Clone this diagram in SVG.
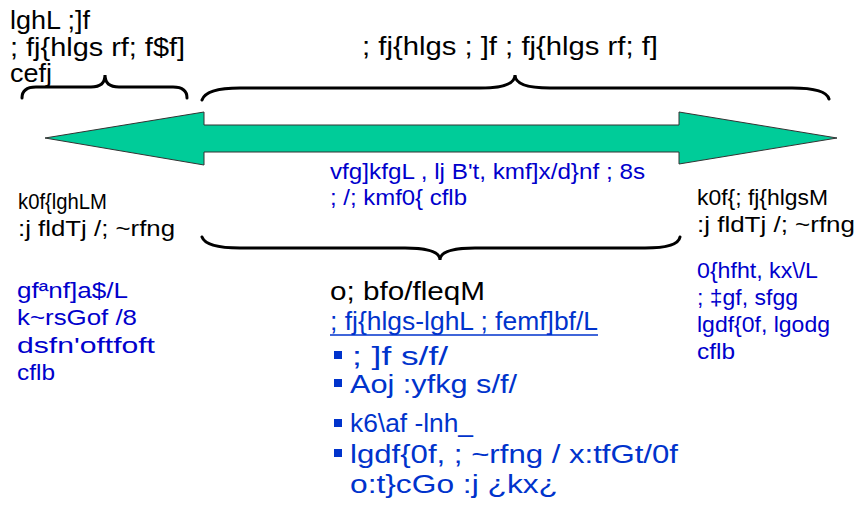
<svg xmlns="http://www.w3.org/2000/svg" width="858" height="507" viewBox="0 0 858 507">
<style>
text{font-family:"Liberation Sans",Arial,sans-serif;}
.k{fill:#000;}
.b{fill:#0000CC;}
.c{fill:#0033CC;}
.s25{font-size:25px;}
.s26{font-size:26px;}
.s22{font-size:22px;}
.brace{fill:none;stroke:#000;stroke-width:3;stroke-linecap:round;}
.bul{fill:#0033CC;}
</style>
<rect width="858" height="507" fill="#fff"/>
<g id="connectors">
<polygon points="45,138 204,112 204,125 679,125 679,112 837,138 679,164 679,152 204,152 204,165" fill="#00CC99" stroke="#333" stroke-width="1"/>
<path class="brace" d="M22,98 Q22,87 36,87 L91,87 Q105,87 105,75 Q105,87 119,87 L173,87 Q187,87 187,98"/>
<path class="brace" d="M202,100 Q206,88 240,88 L480,88 Q515,88 515,75 Q515,88 550,88 L792,88 Q826,88 829,99"/>
<path class="brace" d="M202,237 Q206,248 240,248 L405,248 Q440,248 440,260 Q440,248 475,248 L645,248 Q678,248 680,237"/>
</g>
<g id="top-left">
<text class="k s25" x="10" y="29" textLength="80" lengthAdjust="spacingAndGlyphs">lghL ;]f</text>
<text class="k s25" x="10" y="56" textLength="175" lengthAdjust="spacingAndGlyphs">; fj{hlgs rf; f$f]</text>
<text class="k s25" x="10" y="82" textLength="42" lengthAdjust="spacingAndGlyphs">cefj</text>
</g>
<g id="top-center">
<text class="k s25" x="362" y="55" textLength="296" lengthAdjust="spacingAndGlyphs">; fj{hlgs ; ]f ; fj{hlgs rf; f]</text>
</g>
<g id="under-arrow">
<text class="b s22" x="330" y="179" textLength="315" lengthAdjust="spacingAndGlyphs">vfg]kfgL , lj B't, kmf]x/d}nf  ; 8s</text>
<text class="b s22" x="330" y="205" textLength="137" lengthAdjust="spacingAndGlyphs">; /; kmf0{ cflb</text>
</g>
<g id="left-node">
<text class="k s22" x="18" y="209" textLength="89" lengthAdjust="spacingAndGlyphs">k0f{lghLM</text>
<text class="k s22" x="18" y="236" textLength="157" lengthAdjust="spacingAndGlyphs">:j fldTj /; ~rfng</text>
<text class="b s22" x="17" y="298" textLength="111" lengthAdjust="spacingAndGlyphs">gfªnf]a$/L</text>
<text class="b s22" x="17" y="325" textLength="120" lengthAdjust="spacingAndGlyphs">k~rsGof /8</text>
<text class="b s22" x="17" y="353" textLength="138" lengthAdjust="spacingAndGlyphs">dsfn'oftfoft</text>
<text class="b s22" x="17" y="380" textLength="38" lengthAdjust="spacingAndGlyphs">cflb</text>
</g>
<g id="right-node">
<text class="k s22" x="697" y="205" textLength="131" lengthAdjust="spacingAndGlyphs">k0f{; fj{hlgsM</text>
<text class="k s22" x="697" y="232" textLength="158" lengthAdjust="spacingAndGlyphs">:j fldTj /; ~rfng</text>
<text class="b s22" x="697" y="278" textLength="121" lengthAdjust="spacingAndGlyphs">0{hfht, kx\/L</text>
<text class="b s22" x="697" y="305" textLength="101" lengthAdjust="spacingAndGlyphs">; ‡gf, sfgg</text>
<text class="b s22" x="697" y="332" textLength="133" lengthAdjust="spacingAndGlyphs">lgdf{0f, lgodg</text>
<text class="b s22" x="697" y="359" textLength="38" lengthAdjust="spacingAndGlyphs">cflb</text>
</g>
<g id="center-node">
<text class="k s26" x="330" y="300" textLength="155" lengthAdjust="spacingAndGlyphs">o;  bfo/fleqM</text>
<text class="c s26" x="330" y="330" textLength="268" lengthAdjust="spacingAndGlyphs">; fj{hlgs-lghL ; femf]bf/L</text>
<line x1="330" y1="335" x2="598" y2="335" stroke="#0033CC" stroke-width="1.5"/>
<rect class="bul" x="334" y="351" width="8" height="8"/>
<text class="c s25" x="352" y="365" textLength="96" lengthAdjust="spacingAndGlyphs">; ]f s/f/</text>
<rect class="bul" x="334" y="379" width="8" height="8"/>
<text class="c s25" x="350" y="393" textLength="167" lengthAdjust="spacingAndGlyphs">Aoj :yfkg s/f/</text>
<rect class="bul" x="334" y="419" width="8" height="8"/>
<text class="c s25" x="350" y="432" textLength="123" lengthAdjust="spacingAndGlyphs">k6\af -lnh_</text>
<rect class="bul" x="334" y="449" width="8" height="8"/>
<text class="c s25" x="350" y="463" textLength="328" lengthAdjust="spacingAndGlyphs">lgdf{0f, ; ~rfng /  x:tfGt/0f</text>
<text class="c s25" x="350" y="493" textLength="208" lengthAdjust="spacingAndGlyphs">o:t}cGo :j ¿kx¿</text>
</g>
</svg>
